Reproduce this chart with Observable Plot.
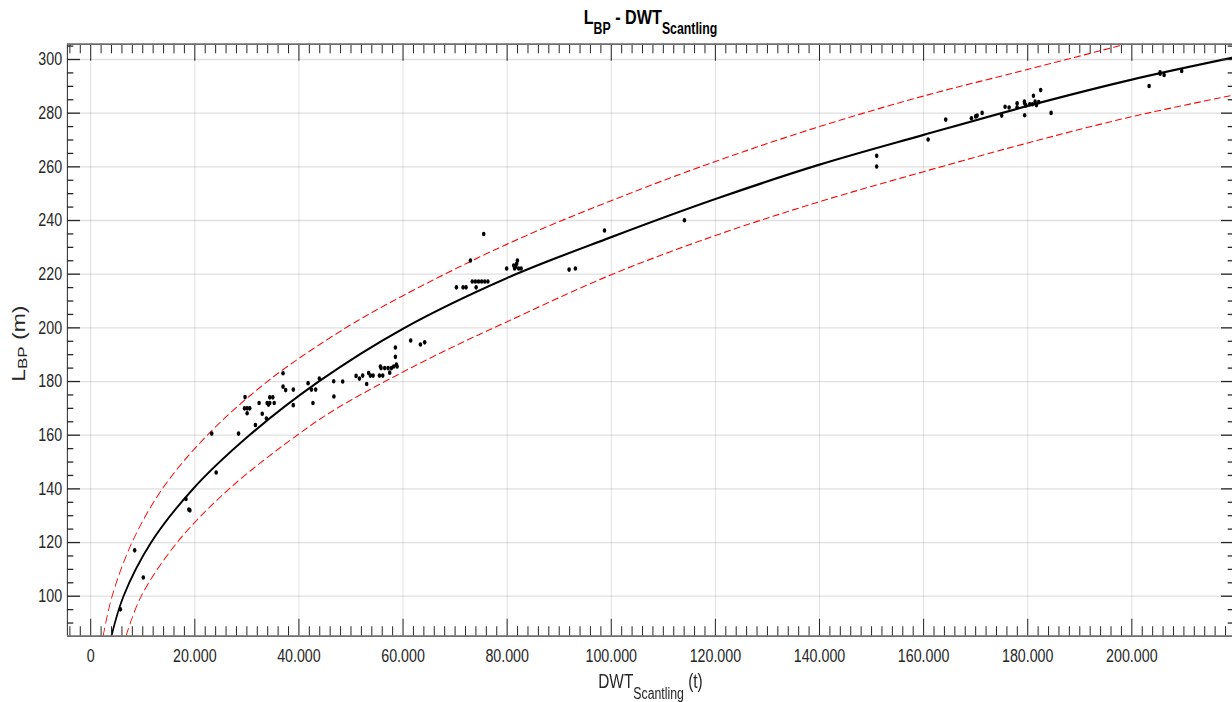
<!DOCTYPE html>
<html>
<head>
<meta charset="utf-8">
<script src="https://cdn.jsdelivr.net/npm/d3@7"></script>
<script src="https://cdn.jsdelivr.net/npm/@observablehq/plot@0.6"></script>
<style>
html, body { margin: 0; padding: 0; background: #fff; overflow: hidden; }
#clip { width: 1232px; height: 702px; overflow: hidden; position: relative; background: #fff; }
#inner { position: absolute; left: 0; top: 0; width: 1606px; transform: scale(0.77, 1); transform-origin: 0 0; }
#inner svg { display: block; overflow: visible; }
</style>
</head>
<body>
<div id="clip"><div id="inner"></div></div>
<script>
// ---------- data ----------
const xTicks = [0, 20000, 40000, 60000, 80000, 100000, 120000, 140000, 160000, 180000, 200000];
const xTickLabels = ["0", "20.000", "40.000", "60.000", "80.000", "100.000", "120.000", "140.000", "160.000", "180.000", "200.000"];
const yTicks = [100, 120, 140, 160, 180, 200, 220, 240, 260, 280, 300];
const yTickLabels = ["100", "120", "140", "160", "180", "200", "220", "240", "260", "280", "300"];
const xDomain = [-4480, 219700];
const yDomain = [85.1, 305.7];

const shipDWT = [5700, 8450, 10100, 18300, 18850, 19050, 24100, 23250, 28400, 29650,
  29550, 30050, 30550, 30050, 31640, 32350, 32950, 33750, 33900, 34400,
  34150, 34400, 34980, 35250, 36950, 36950, 37450, 38920, 38920, 41760,
  42700, 42400, 43220, 43920, 46680, 46720, 48410, 50980, 51620, 52250,
  53020, 53400, 53730, 54250, 55460, 56100, 55650, 55780, 56480, 57130,
  57770, 57440, 58210, 58720, 58860, 58530, 58530, 61470, 63340, 64160,
  70250, 71540, 72110, 72940, 73300, 73900, 74500, 75100, 75700, 76300,
  74040, 75500, 79910, 81260, 81640, 81970, 81830, 82220, 82680, 81450,
  91900, 93100, 98700, 114050, 150990, 150990, 160870, 164250, 169180, 170000,
  170280, 171240, 175000, 175650, 176420, 177960, 177960, 179360, 179420, 179620,
  179420, 180380, 180900, 181100, 181420, 181670, 182110, 182490, 184490, 203320,
  205430, 205430, 206200, 209580];
const shipLBP = [95.1, 117.1, 107, 136.2, 132.3, 132, 146.1, 160.6, 160.6, 174.2,
  170, 170, 170, 168.2, 163.8, 172, 168, 166.2, 172, 172,
  171.4, 174.1, 174.1, 172, 183.1, 178.1, 176.8, 177, 171.2, 179.4,
  172, 177, 177, 181.1, 180.1, 174.4, 180, 182.1, 181.1, 182.2,
  179.1, 183.2, 182.2, 182.2, 182.2, 182.2, 185.6, 185, 185, 185,
  185, 183.3, 185.6, 186.3, 185.6, 189.2, 192.7, 195.3, 193.8, 194.6,
  215.1, 215.1, 215.1, 225.1, 217.3, 217.3, 217.3, 217.3, 217.3, 217.3,
  215.1, 235, 222.1, 223.2, 222.8, 225.1, 223.9, 222.1, 222.1, 222.1,
  221.7, 222.1, 236.3, 240.1, 264.1, 260.1, 270.2, 277.6, 278.1, 278.8,
  279.1, 280.1, 279.1, 282.4, 282.1, 283.7, 282.2, 284.3, 283.7, 282.9,
  279.2, 283.3, 283.3, 286.5, 284.3, 283, 284.1, 288.6, 280.1, 290.1,
  295.2, 294.7, 294.2, 295.7];

// fitted curve (solid black)
const fitDWT = [4000, 6300, 11600, 19670, 30500, 43800, 60000, 80000, 100000, 120000, 140000, 160000, 180000, 200000, 219700];
const fitLBP = [85.3, 100, 120, 140, 160, 180, 199.7, 218.6, 233.8, 248, 260.8, 271.9, 282.7, 292.5, 300.8];
// upper band (red dashed)
const upperDWT = [2400, 4110, 7930, 13760, 22400, 34200, 49000, 60000, 80000, 100000, 120000, 140000, 160000, 180000, 198800];
const upperLBP = [85.3, 100, 120, 140, 160, 180.4, 200, 212, 231.2, 247.4, 262, 275, 286.4, 296.3, 305.7];
// lower band (red dashed)
const lowerDWT = [6800, 9700, 16600, 26600, 39650, 47300, 65260, 80000, 100000, 120000, 140000, 160000, 180000, 200000, 219700];
const lowerLBP = [85.3, 100, 120, 140, 160, 170, 188.8, 202.3, 219.8, 234.4, 247, 258.2, 268.9, 278.7, 286.8];

// ---------- layout (virtual px, the page is compressed horizontally) ----------
const TITLE_H = 40;
const W = 1606, H = 702 - TITLE_H;
const mL = 87, mR = 3.4, mT = 43.7 - TITLE_H, mB = 66.3;
const fw = W - mL - mR, fh = H - mT - mB;
const axisColor = "#262626";
const fontFamily = "'Liberation Sans', Arial, Helvetica, sans-serif";

const ships = shipDWT.map((d, i) => ({dwt: d, lbp: shipLBP[i]}));
const fit = fitDWT.map((d, i) => ({dwt: d, lbp: fitLBP[i]}));
const upper = upperDWT.map((d, i) => ({dwt: d, lbp: upperLBP[i]}));
const lower = lowerDWT.map((d, i) => ({dwt: d, lbp: lowerLBP[i]}));

const xLabelMap = new Map(xTicks.map((d, i) => [d, xTickLabels[i]]));
const yLabelMap = new Map(yTicks.map((d, i) => [d, yTickLabels[i]]));
const xMinor = d3.range(-4000, 219001, 2000).filter(d => d % 20000 !== 0);
const yMinor = d3.range(90, 306, 5).filter(d => d % 20 !== 0);

const tickStyle = {stroke: axisColor, strokeWidth: 1.3};

const plot = Plot.plot({
  width: W, height: H,
  marginLeft: mL, marginRight: mR, marginTop: mT, marginBottom: mB,
  x: {domain: xDomain},
  y: {domain: yDomain},
  style: {fontFamily, fontSize: "18.5px", color: axisColor, background: "white", overflow: "visible"},
  marks: [
    Plot.gridX(xTicks, {x: d => d, stroke: axisColor, strokeOpacity: 0.15, strokeWidth: 1.2}),
    Plot.gridY(yTicks, {y: d => d, stroke: axisColor, strokeOpacity: 0.15, strokeWidth: 1.3}),
    Plot.line(upper, {x: "dwt", y: "lbp", curve: "catmull-rom", stroke: "#ff0000", strokeWidth: 1.1, strokeDasharray: "8,5", clip: true}),
    Plot.line(lower, {x: "dwt", y: "lbp", curve: "catmull-rom", stroke: "#ff0000", strokeWidth: 1.1, strokeDasharray: "8,5", clip: true}),
    Plot.line(fit, {x: "dwt", y: "lbp", curve: "catmull-rom", stroke: "#000", strokeWidth: 2.2, clip: true}),
    Plot.dot(ships, {x: "dwt", y: "lbp", r: 2.3, fill: "#000", stroke: null}),
    // inward ticks: bottom, top, left, right
    Plot.tickX(xMinor, {x: d => d, insetTop: fh - 9.5, ...tickStyle}),
    Plot.tickX(xTicks, {x: d => d, insetTop: fh - 17, ...tickStyle}),
    Plot.tickX(xMinor, {x: d => d, insetBottom: fh - 9.5, ...tickStyle}),
    Plot.tickX(xTicks, {x: d => d, insetBottom: fh - 17, ...tickStyle}),
    Plot.tickY(yMinor, {y: d => d, insetRight: fw - 8.2, ...tickStyle}),
    Plot.tickY(yTicks, {y: d => d, insetRight: fw - 16.9, ...tickStyle}),
    Plot.tickY(yMinor, {y: d => d, insetLeft: fw - 8.2, ...tickStyle}),
    Plot.tickY(yTicks, {y: d => d, insetLeft: fw - 16.9, ...tickStyle}),
    // frame lines
    Plot.ruleX([xDomain[0]], {x: d => d, stroke: axisColor, strokeWidth: 1.3}),
    Plot.ruleY([yDomain[0]], {y: d => d, stroke: "#6e6e6e", strokeWidth: 1.7}),
    Plot.ruleY([yDomain[1]], {y: d => d, stroke: "#6e6e6e", strokeWidth: 1.7}),
    // tick labels
    Plot.axisX({ticks: xTicks, tickSize: 0, tickPadding: 12.3, tickFormat: d => xLabelMap.get(d), label: null}),
    Plot.axisY({ticks: yTicks, tickSize: 0, tickPadding: 6.9, tickFormat: d => yLabelMap.get(d), label: null})
  ]
});

// axis titles with subscripts
const svg = d3.select(plot);
const cx = mL + fw / 2;
const cy = mT + fh / 2;
const xl = svg.append("text")
  .attr("x", cx).attr("y", 688.3 - TITLE_H)
  .attr("text-anchor", "middle").attr("font-size", 20).attr("fill", axisColor);
xl.append("tspan").text("DWT");
xl.append("tspan").attr("font-size", 16).attr("dy", 10.4).text("Scantling");
xl.append("tspan").attr("dy", -10.4).text(" (t)");

const yl = svg.append("text")
  .attr("transform", `translate(32.5,${cy + 4}) rotate(-90)`)
  .attr("text-anchor", "middle").attr("font-size", 23).attr("fill", axisColor);
yl.append("tspan").text("L");
yl.append("tspan").attr("font-size", 17).attr("dy", 3).text("BP");
yl.append("tspan").attr("dy", -3).text(" (m)");

// title above the chart
const titleSvg = d3.create("svg").attr("width", W).attr("height", TITLE_H)
  .style("display", "block").style("background", "white");
const tt = titleSvg.append("text")
  .attr("x", cx).attr("y", 24.3).attr("text-anchor", "middle")
  .attr("font-family", fontFamily).attr("font-size", 21).attr("font-weight", "bold").attr("fill", "#000");
tt.append("tspan").text("L");
tt.append("tspan").attr("font-size", 16).attr("dy", 10).text("BP");
tt.append("tspan").attr("dy", -10).text(" - DWT");
tt.append("tspan").attr("font-size", 16).attr("dy", 10).text("Scantling");

const inner = document.getElementById("inner");
inner.appendChild(titleSvg.node());
inner.appendChild(plot);
</script>
</body>
</html>
